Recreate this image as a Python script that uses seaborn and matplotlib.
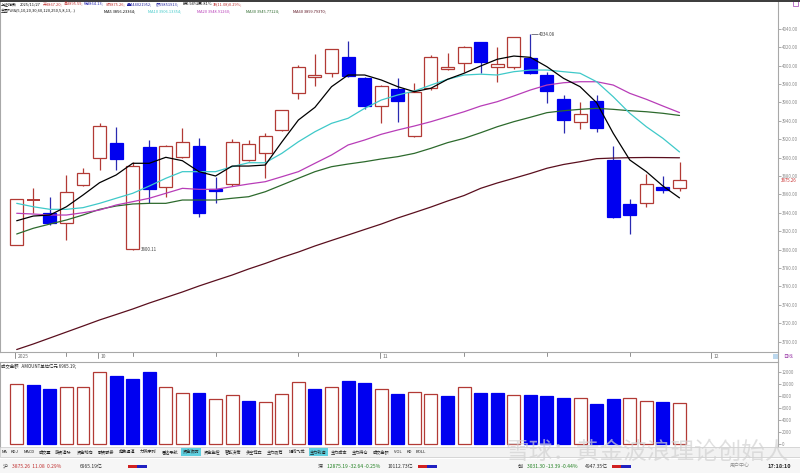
import numpy as np
import pandas as pd
import seaborn as sns
import matplotlib
matplotlib.use("Agg")
import matplotlib.pyplot as plt
from matplotlib.lines import Line2D
from matplotlib.patches import Rectangle
from matplotlib.transforms import blended_transform_factory

# ---- data (上证指数, daily) ----
opens = [3805.0, 3853.5, 3840.1, 3828.6, 3870.5, 3899.2, 3916.2, 3800.4, 3911.8, 3868.4,
         3901.0, 3912.6, 3865.9, 3871.3, 3897.4, 3905.3, 3930.0, 3970.5, 3988.0, 3991.6,
         4008.9, 3986.8, 3956.0, 3974.2, 3923.4, 3975.3, 3995.9, 4003.1, 4025.2, 3998.1,
         3998.1, 4008.5, 3989.7, 3963.3, 3939.0, 3961.5, 3897.4, 3849.2, 3851.0, 3867.7,
         3867.20]
highs = [3855.5, 3866.6, 3856.8, 3881.1, 3888.4, 3937.2, 3933.5, 3895.5, 3919.1, 3914.0,
         3931.8, 3921.6, 3879.2, 3919.9, 3919.0, 3926.4, 3952.0, 4000.6, 4012.2, 4018.0,
         4027.0, 3988.0, 3979.0, 3986.8, 3981.3, 4011.0, 4013.3, 4021.0, 4026.0, 4020.4,
         4031.0, 4034.08, 3993.3, 3968.0, 3960.7, 3968.0, 3912.6, 3854.7, 3882.2, 3880.0,
         3895.59]
lows = [3804.5, 3839.5, 3827.0, 3810.5, 3869.5, 3886.5, 3886.5, 3800.11, 3851.0, 3857.5,
        3900.0, 3835.1, 3851.0, 3869.0, 3896.0, 3877.5, 3929.0, 3963.6, 3977.8, 3987.9,
        3987.0, 3952.4, 3937.2, 3939.0, 3922.0, 3973.0, 3995.0, 3993.3, 3992.2, 3982.4,
        3996.0, 3991.0, 3959.6, 3927.0, 3930.7, 3928.1, 3834.0, 3816.7, 3846.0, 3861.8,
        3864.13]
closes = [3854.5, 3854.0, 3828.6, 3862.9, 3883.6, 3934.6, 3898.1, 3890.9, 3865.9, 3912.9,
          3916.6, 3840.1, 3864.0, 3916.6, 3914.4, 3923.4, 3951.7, 3998.1, 3989.5, 4017.6,
          3988.6, 3956.0, 3977.8, 3961.5, 3971.6, 4009.6, 3998.7, 4019.8, 4004.2, 4001.7,
          4030.7, 3992.2, 3972.7, 3940.8, 3947.3, 3931.8, 3835.8, 3837.6, 3871.0, 3864.8,
          3875.26]
# 成交金额 (亿元)
amount = [10050, 9880, 9170, 9600, 9600, 12100, 11380, 10830, 12100, 9500,
          8500, 8600, 7550, 8220, 7270, 7000, 8430, 10330, 9220, 9600,
          10600, 10270, 9220, 8380, 8700, 8400, 8000, 9500, 8600, 8500,
          8300, 8300, 8000, 7800, 7800, 6800, 7500, 7700, 7200, 7000,
          6965.19]

ma5 = [3831.4, 3836.5, 3837.6, 3846.6, 3859.3, 3872.7, 3881.1, 3893.8, 3893.8, 3900.3,
       3896.6, 3884.7, 3880.0, 3890.8, 3890.8, 3891.9, 3916.9, 3940.8, 3954.6, 3977.0,
       3989.7, 3989.7, 3984.3, 3977.0, 3971.6, 3975.3, 3985.0, 3991.6, 3999.5, 4006.8,
       4010.3, 4008.9, 3998.7, 3986.1, 3977.0, 3959.6, 3926.4, 3897.4, 3884.7, 3869.1,
       3856.23]
ma10 = [3850.3, 3846.6, 3843.8, 3843.8, 3845.6, 3850.3, 3855.8, 3861.2, 3869.1, 3877.5,
        3884.7, 3884.7, 3884.7, 3890.1, 3894.4, 3894.4, 3904.6, 3917.2, 3928.1, 3937.2,
        3942.7, 3953.5, 3962.5, 3968.0, 3972.3, 3978.8, 3985.0, 3989.7, 3990.6, 3989.7,
        3993.3, 3995.1, 3995.1, 3993.3, 3991.6, 3982.4, 3966.1, 3948.1, 3933.5, 3920.9,
        3906.13]
ma20 = [3839.5, 3838.7, 3837.6, 3837.6, 3840.1, 3843.0, 3848.5, 3852.1, 3855.8, 3861.2,
        3866.6, 3865.5, 3865.5, 3868.4, 3871.3, 3873.8, 3879.2, 3884.7, 3893.8, 3902.8,
        3913.7, 3919.1, 3925.3, 3930.0, 3934.3, 3939.0, 3944.4, 3949.8, 3956.0, 3960.7,
        3966.9, 3973.4, 3978.8, 3981.3, 3982.4, 3982.4, 3978.8, 3969.8, 3963.3, 3956.0,
        3948.91]
ma30 = [3817.0, 3823.2, 3827.8, 3832.2, 3837.6, 3843.8, 3847.4, 3849.6, 3850.3, 3850.3,
        3853.9, 3853.9, 3853.9, 3855.8, 3857.5, 3862.9, 3870.2, 3877.5, 3884.7, 3890.1,
        3893.0, 3895.5, 3898.5, 3901.0, 3904.6, 3910.1, 3916.2, 3920.9, 3927.0, 3933.5,
        3939.0, 3943.8, 3948.8, 3950.9, 3952.4, 3953.5, 3952.4, 3950.9, 3949.8, 3948.1,
        3945.77]
ma60 = [3691.5, 3697.5, 3704.0, 3710.5, 3717.0, 3723.6, 3729.5, 3735.5, 3742.0, 3748.0,
        3754.0, 3760.5, 3766.5, 3772.4, 3779.0, 3785.0, 3791.5, 3797.4, 3804.0, 3810.0,
        3815.9, 3821.9, 3827.8, 3834.4, 3840.3, 3846.3, 3852.8, 3858.8, 3866.6, 3872.4,
        3877.5, 3882.7, 3888.4, 3892.5, 3895.5, 3898.8, 3899.5, 3899.9, 3900.1, 3900.0,
        3899.79]

price_ticks = list(range(3700, 4041, 20))
vol_ticks = [0, 2000, 4000, 6000, 8000, 10000, 12000]
date_labels = ["2025", "10", "11", "12"]
date_pos = [0, 5, 22, 42]
week_pos = [3, 7, 12, 17, 27, 32, 37]

RED = "#b23a35"
BLUE = "#0000f0"
BLUE_WICK = "#2a2ab0"
GRAY = "#8a8a8a"
ma_colors = {"MA5": "#000000", "MA10": "#3fc9c9", "MA20": "#b83db8",
             "MA30": "#2d6a2d", "MA60": "#5a0f1e"}

sns.set_theme(style="white")
plt.rcParams["font.family"] = ["Noto Sans CJK SC", "DejaVu Sans"]
plt.rcParams["axes.unicode_minus"] = False

W, H = 800, 473
fig = plt.figure(figsize=(8, 4.73), dpi=100)
fig.patch.set_facecolor("white")


def box(x0, y0, x1, y1):
    return [x0 / W, 1 - y1 / H, (x1 - x0) / W, (y1 - y0) / H]


def fx(x):
    return x / W


def fy(y):
    return 1 - y / H


ax = fig.add_axes(box(0, 1, 778, 352))
vax = fig.add_axes(box(0, 362, 778, 447))

n = len(closes)
idx = np.arange(n)
xlim = (-16.7 / 16.57, (778 - 16.7) / 16.57)

# ---- candles ----
bw = 0.78
for i in range(n):
    o, h, l, c = opens[i], highs[i], lows[i], closes[i]
    up = c >= o
    col = RED if up else BLUE
    wcol = RED if up else BLUE_WICK
    top, bot = max(o, c), min(o, c)
    ax.vlines(i, top, h, color=wcol, lw=0.9, zorder=2)
    ax.vlines(i, l, bot, color=wcol, lw=0.9, zorder=2)
    if top - bot < 1.2:
        ax.hlines((top + bot) / 2, i - bw / 2, i + bw / 2, color=col, lw=1.4, zorder=3)
    else:
        ax.bar(i, top - bot, bottom=bot, width=bw,
               facecolor="white" if up else BLUE, edgecolor=col,
               linewidth=0.9, zorder=3)

# ---- moving averages via seaborn ----
ma_df = pd.DataFrame({"idx": idx, "MA5": ma5, "MA10": ma10, "MA20": ma20,
                      "MA30": ma30, "MA60": ma60})
ma_long = ma_df.melt(id_vars="idx", var_name="name", value_name="value")
sns.lineplot(data=ma_long, x="idx", y="value", hue="name",
             hue_order=["MA60", "MA30", "MA20", "MA10", "MA5"],
             palette=ma_colors, legend=False, linewidth=0.9, ax=ax, zorder=4)

ax.set_xlim(*xlim)
ax.set_ylim(3700 - 10.3 * 1.0863, 4040 + 27.7 * 1.0863)
ax.set_xlabel("")
ax.set_ylabel("")
ax.set_xticks([])
ax.yaxis.tick_right()
ax.set_yticks(price_ticks)
ax.set_yticklabels([f"{v:.2f}" for v in price_ticks])
ax.tick_params(axis="y", direction="out", length=2, width=0.5, pad=0.8,
               labelsize=3.2, colors=GRAY, labelcolor=GRAY)
for side in ["left", "right", "bottom"]:
    ax.spines[side].set_color("#a8a8a8")
    ax.spines[side].set_linewidth(0.8)
ax.spines["top"].set_visible(False)

# high / low annotations
ax.hlines(4034.08, 31.02, 31.45, color="#606070", lw=0.6, zorder=5)
ax.text(31.5, 4034.08, "4034.08", fontsize=3.2, color="#404040",
        va="center", ha="left", zorder=5)
ax.text(7.5, 3800.11, "3800.11", fontsize=3.2, color="#404040",
        va="center", ha="left", zorder=5)

# current price label
tr_r = blended_transform_factory(ax.transAxes, ax.transData)
ax.text(1.0 + 2.5 / 778, closes[-1], f"{closes[-1]:.2f}", transform=tr_r,
        fontsize=3.2, color="#c83030", va="center", ha="left")

# ---- date row ----
trd = blended_transform_factory(ax.transData, fig.transFigure)
for p, lab in zip(date_pos, date_labels):
    ax.add_line(Line2D([p - 0.1, p - 0.1], [fy(352), fy(358)], transform=trd,
                       color="#909090", lw=0.7, clip_on=False))
    ax.text(p + 0.05, fy(356.5), lab, transform=trd, fontsize=3.6, color="#707070",
            va="center", ha="left", clip_on=False)
for p in week_pos:
    ax.add_line(Line2D([p, p], [fy(352), fy(355.5)], transform=trd,
                       color="#909090", lw=0.7, clip_on=False))
fig.patches.append(Rectangle((fx(773), fy(359)), fx(5), 5 / H, transform=fig.transFigure,
                             facecolor="#bcd8ee", edgecolor="none"))
fig.text(fx(783), fy(356.5), "日线", fontsize=3.5, color="#9a3aa8", va="center", ha="left")

# ---- volume (成交金额) ----
vol_up = [True] + [closes[i] >= closes[i - 1] for i in range(1, n)]
vax.bar(idx, amount, width=bw,
        color=["white" if u else BLUE for u in vol_up],
        edgecolor=[RED if u else BLUE for u in vol_up], linewidth=0.9)
vax.set_xlim(*xlim)
vax.set_ylim(-450, 13717)
vax.set_xticks([])
vax.yaxis.tick_right()
vax.set_yticks(vol_ticks)
vax.set_yticklabels([str(v) for v in vol_ticks])
vax.tick_params(axis="y", direction="out", length=2, width=0.5, pad=0.8,
                labelsize=3.2, colors=GRAY, labelcolor=GRAY)
for side in ["left", "right", "top"]:
    vax.spines[side].set_color("#a8a8a8")
    vax.spines[side].set_linewidth(0.8)
vax.spines["bottom"].set_visible(False)
fig.text(fx(1), fy(366.5), "成交金额   AMOUNT单位亿元 6965.19;", fontsize=3.2,
         color="#202020", va="center", ha="left")

# frame lines
fig.add_artist(Line2D([0, 1], [fy(0.6), fy(0.6)], color="#3a3a3a", lw=1.4))
fig.add_artist(Line2D([fx(778), fx(778)], [fy(352), fy(362)], color="#a8a8a8", lw=0.8))

# ---- header ----
hdr1 = [(1, "上证指数", "#101010"), (20, "2025/11/27", "#101010"),
        (42.5, "开3867.20;", "#c03030"), (63.3, "高3895.59;", "#c03030"),
        (84.3, "低3864.13;", "#2020b0"), (105.3, "收3875.26;", "#c03030"),
        (127.3, "量444021952;", "#2020a0"), (156, "额69851913;", "#2020a0"),
        (182.7, "换0.94%", "#101010"), (197.3, "振0.81%", "#101010"),
        (213.3, "涨(11.08)0.29%;", "#c03030")]
for x, s, c in hdr1:
    fig.text(fx(x), fy(4.3), s, fontsize=2.85, color=c, va="center", ha="left")
hdr2 = [(1, "主图均线(5,10,20,30,60,120,250,5,8,13,..)", "#101010"),
        (104, "MA5 3856.23364;", ma_colors["MA5"]),
        (148.3, "MA10 3906.13354;", ma_colors["MA10"]),
        (196.7, "MA20 3948.91260;", ma_colors["MA20"]),
        (245.7, "MA30 3945.77124;", ma_colors["MA30"]),
        (293.3, "MA60 3899.79370;", ma_colors["MA60"])]
for x, s, c in hdr2:
    fig.text(fx(x), fy(11.2), s, fontsize=2.85, color=c, va="center", ha="left")
fig.patches.append(Rectangle((fx(793), fy(6)), fx(5), 5 / H, transform=fig.transFigure,
                             facecolor="white", edgecolor="#b060c0", lw=0.6))

# ---- bottom tab row and status bar ----
fig.patches.append(Rectangle((0, fy(457)), 1, 10 / H, transform=fig.transFigure,
                             facecolor="#f2f2f2", edgecolor="#c8c8c8", lw=0.5))
tabs = ["MA", "KDJ", "MACD", "成交量", "游资追踪", "资金动向", "融资融券", "趋势通道",
        "力转序列", "雷达导航", "资金攻防", "资金监控", "智能决策", "多空博弈", "主力吸筹",
        "短线飞龙", "主力轨迹", "主力成本", "主力持仓", "成交金额", "VOL", "KD", "BOLL"]
tx = 1.5
for k, t in enumerate(tabs):
    wdt = 2.9 * len(t) if t.isascii() else 4.4 * len(t)
    if k in (10, 16):
        fig.patches.append(Rectangle((fx(tx - 1), fy(456)), fx(wdt + 2), 8 / H,
                                     transform=fig.transFigure, facecolor="#5fd0e0",
                                     edgecolor="none"))
    fig.text(fx(tx), fy(452), t, fontsize=3.0, color="#202020", va="center", ha="left")
    tx += wdt + 3.6

fig.patches.append(Rectangle((0, 0), 1, 14 / H, transform=fig.transFigure,
                             facecolor="#f6f6f6", edgecolor="none"))
status = [(3, "沪", "#303030"), (12, "3875.26  11.08  0.29%", "#c03030"),
          (80, "6965.19亿", "#303030"),
          (318, "深", "#303030"), (327, "12875.19 -32.64 -0.25%", "#208020"),
          (388, "10112.73亿", "#303030"),
          (518, "创", "#303030"), (527, "3031.30 -13.39 -0.44%", "#208020"),
          (585, "4947.35亿", "#303030"),
          (730, "用户中心", "#909090")]
for x, s, c in status:
    fig.text(fx(x), fy(466), s, fontsize=3.6, color=c, va="center", ha="left")
for x0 in (128, 418, 612):
    fig.patches.append(Rectangle((fx(x0), fy(467.5)), fx(9), 3 / H, transform=fig.transFigure,
                                 facecolor="#d02020", edgecolor="none"))
    fig.patches.append(Rectangle((fx(x0 + 9), fy(467.5)), fx(10), 3 / H, transform=fig.transFigure,
                                 facecolor="#2020c0", edgecolor="none"))
fig.text(fx(768), fy(466), "17:18:10", fontsize=4.0, color="#202020", va="center",
         ha="left", fontweight="bold")

# watermark
fig.text(fx(505), fy(452), "雪球：黄金波浪理论创始人", fontsize=17, color="#d2d2d2",
         alpha=0.7, va="center", ha="left", zorder=10)

fig.savefig("out.png", dpi=100, facecolor="white")
